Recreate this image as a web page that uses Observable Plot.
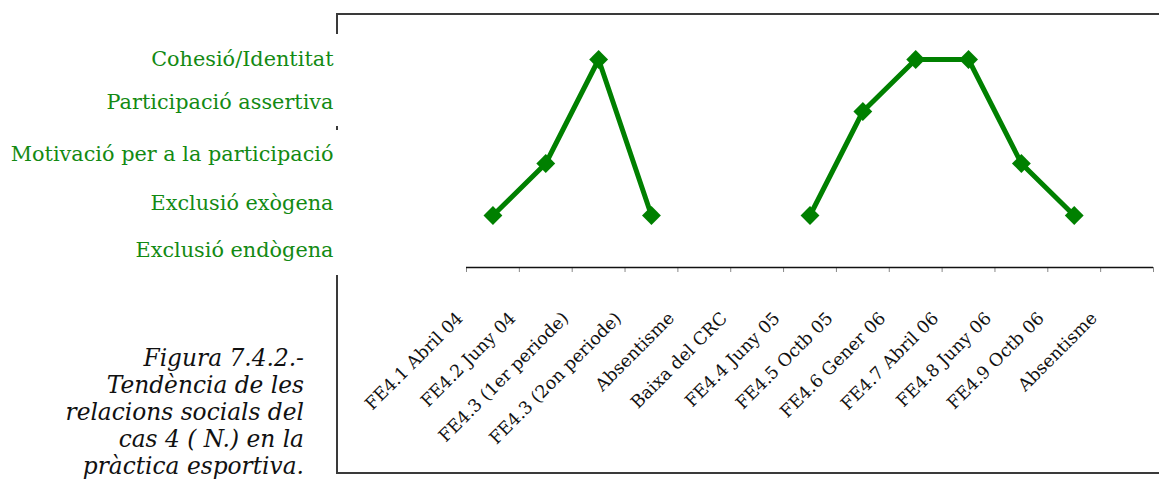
<!DOCTYPE html>
<html><head><meta charset="utf-8">
<script src="https://cdn.jsdelivr.net/npm/d3@7"></script>
<script src="https://cdn.jsdelivr.net/npm/@observablehq/plot@0.6"></script>
<style>
html,body{margin:0;padding:0;background:#fff;}
#wrap{position:relative;width:1159px;height:480px;overflow:hidden;background:#fff;}
#wrap svg{position:absolute;left:0;top:0;}
.ln{position:absolute;background:#3a3a3a;}
#cap{position:absolute;left:0;top:344px;width:304px;text-align:right;font-family:"DejaVu Serif",serif;font-style:italic;font-size:23.3px;line-height:27px;color:#111;}
</style></head><body>
<div id="wrap"></div>
<script>
const categories = ["FE4.1 Abril 04","FE4.2 Juny 04","FE4.3 (1er periode)","FE4.3 (2on periode)","Absentisme","Baixa del CRC","FE4.4 Juny 05","FE4.5 Octb 05","FE4.6 Gener 06","FE4.7 Abril 06","FE4.8 Juny 06","FE4.9 Octb 06","Absentisme"];
const levels = [1, 2, 4, 1, null, null, 1, 3, 4, 4, 2, 1, null];
const levelNames = ["Exclusió endògena","Exclusió exògena","Motivació per a la participació","Participació assertiva","Cohesió/Identitat"];
const levelTickValues = [0.33, 1.23, 2.17, 3.18, 4];
const captionLines = ["Figura 7.4.2.-","Tendència de les","relacions socials del","cas 4 ( N.) en la","pràctica esportiva."];

const data = categories.map((c, i) => ({pos: i + 0.5, label: c, level: levels[i]}));
const nameByTick = new Map(levelTickValues.map((v, k) => [v, levelNames[k]]));

const chart = Plot.plot({
  width: 1159, height: 480,
  marginLeft: 466, marginRight: 6, marginTop: 7, marginBottom: 213,
  style: {fontFamily: "'DejaVu Serif', serif", background: "transparent", overflow: "visible"},
  x: {domain: [0, categories.length], axis: null},
  y: {domain: [0, 5], axis: null},
  marks: [
    Plot.axisX({ticks: d3.range(0, categories.length + 1), tickFormat: () => "", tickSize: 5, stroke: "#888", label: null}),
    Plot.ruleY([0], {stroke: "#111", strokeWidth: 1.5}),
    Plot.axisX({ticks: data.map(d => d.pos), tickSize: 0, tickFormat: v => categories[Math.floor(v)],
      tickRotate: -45, fontSize: 17.5, dx: -33, dy: 36, color: "#111", label: null}),
    Plot.axisY({ticks: levelTickValues, tickSize: 0, tickPadding: 133, tickFormat: v => nameByTick.get(v),
      fontSize: 20.8, color: "#138a13", label: null}),
    Plot.line(data, {x: "pos", y: "level", stroke: "#008000", strokeWidth: 5}),
    Plot.dot(data.filter(d => d.level != null), {x: "pos", y: "level", symbol: "diamond2", r: 8.5, fill: "#008000", stroke: "none"})
  ]
});
const wrap = document.getElementById("wrap");
wrap.appendChild(chart);
function line(l, t, w, h) { const d = document.createElement("div"); d.className = "ln"; Object.assign(d.style, {left: l + "px", top: t + "px", width: w + "px", height: h + "px"}); wrap.appendChild(d); }
line(336, 13, 830, 2);
line(336, 472, 830, 2);
line(336, 13, 2, 21);
line(336, 126, 2, 4);
line(336, 275, 2, 199);
const cap = document.createElement("div");
cap.id = "cap";
cap.innerHTML = captionLines.join("<br>");
wrap.appendChild(cap);
</script>
</body></html>
